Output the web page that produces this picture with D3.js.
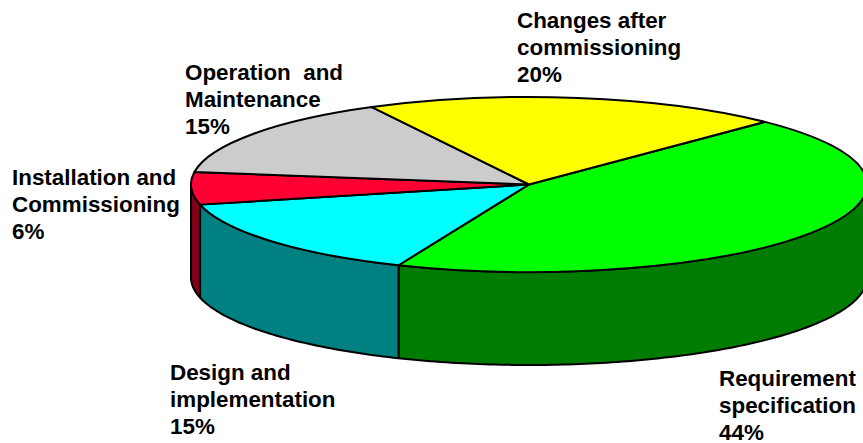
<!DOCTYPE html>
<html>
<head>
<meta charset="utf-8">
<script src="https://cdn.jsdelivr.net/npm/d3@7"></script>
<style>
	body{ margin:0; background:#fff; overflow:hidden; }
	svg{ display:block; }
	text{ font-family:"Liberation Sans",Arial,sans-serif; font-weight:bold; font-size:22.4px; fill:#000; white-space:pre; }
</style>
</head>
<body>
<svg id="chart" width="863" height="443"></svg>
<script>
var categories = ["Requirement specification", "Design and implementation", "Installation and Commissioning", "Operation and Maintenance", "Changes after commissioning"];
var shares = [44, 15, 6, 15, 20];
var topColors = ["#00ff00", "#00ffff", "#ff0033", "#cccccc", "#ffff00"];
var wallColors = ["#007d00", "#008080", "#800019", "#666666", "#808000"];

// label lines and where each block sits, same order as categories
var labelLines = [
	["Requirement", "specification", "44%"],
	["Design and", "implementation", "15%"],
	["Installation and", "Commissioning", "6%"],
	["Operation  and", "Maintenance", "15%"],
	["Changes after", "commissioning", "20%"]
];
var labelPos = [[719, 386], [170, 380], [12, 185], [185, 80], [517, 28]];

var cx = 529, cy = 184.5, rx = 338, ry = 87.5, depth = 93;
var start = 44.3 * Math.PI / 180;

var svg = d3.select("#chart");

var pie = d3.pie().sort(null).startAngle(start).endAngle(start + 2 * Math.PI);
var slices = pie(shares);

// d3 angles run clockwise from 12 o'clock, the ellipse is just a squashed unit circle
var xscale = d3.scaleLinear().domain([-1, 1]).range([cx - rx, cx + rx]);
var yscale = d3.scaleLinear().domain([-1, 1]).range([cy - ry, cy + ry]);

function rim(a, dy){
	return [xscale(Math.sin(a)), yscale(-Math.cos(a)) + dy];
}

function wallPoints(a0, a1){
	var n = Math.max(2, Math.ceil((a1 - a0) * 60));
	var front = d3.range(n + 1).map(function(i){ return rim(a0 + (a1 - a0) * i / n, 0); });
	var back = front.slice().reverse().map(function(p){ return [p[0], p[1] + depth]; });
	return front.concat(back);
}

var line = d3.line().curve(d3.curveLinear);

// only the part of each slice between 3 and 9 o'clock shows its side
var walls = [];
slices.forEach(function(d, i){
	var lo = Math.PI / 2, hi = 3 * Math.PI / 2;
	[0, 2 * Math.PI].forEach(function(off){
		var a0 = Math.max(d.startAngle, lo + off), a1 = Math.min(d.endAngle, hi + off);
		if(a1 > a0){ walls.push({ a0: a0, a1: a1, i: i }); }
	});
});

svg.append("g").attr("class", "walls")
	.selectAll("path")
	.data(walls)
	.enter().append("path")
	.attr("d", function(d){ return line(wallPoints(d.a0, d.a1)) + "Z"; })
	.attr("fill", function(d){ return wallColors[d.i]; })
	.attr("stroke", "#000")
	.attr("stroke-width", 2)
	.attr("stroke-linejoin", "round");

var arc = d3.arc().innerRadius(0).outerRadius(1);

svg.append("g").attr("class", "slices")
	.attr("transform", "translate(" + cx + "," + cy + ") scale(" + rx + "," + ry + ")")
	.selectAll("path")
	.data(slices)
	.enter().append("path")
	.attr("d", arc)
	.attr("fill", function(d, i){ return topColors[i]; })
	.attr("stroke", "#000")
	.attr("stroke-width", 2)
	.attr("stroke-linejoin", "round")
	.attr("vector-effect", "non-scaling-stroke")
	.append("title").text(function(d, i){ return categories[i]; });

var labels = svg.append("g").attr("class", "labels")
	.selectAll("text")
	.data(labelLines)
	.enter().append("text")
	.attr("x", function(d, i){ return labelPos[i][0]; })
	.attr("y", function(d, i){ return labelPos[i][1]; });

labels.selectAll("tspan")
	.data(function(d, i){ return d.map(function(s){ return { s: s, x: labelPos[i][0] }; }); })
	.enter().append("tspan")
	.attr("x", function(d){ return d.x; })
	.attr("dy", function(d, i){ return i ? 27 : 0; })
	.text(function(d){ return d.s; });
</script>
</body>
</html>
